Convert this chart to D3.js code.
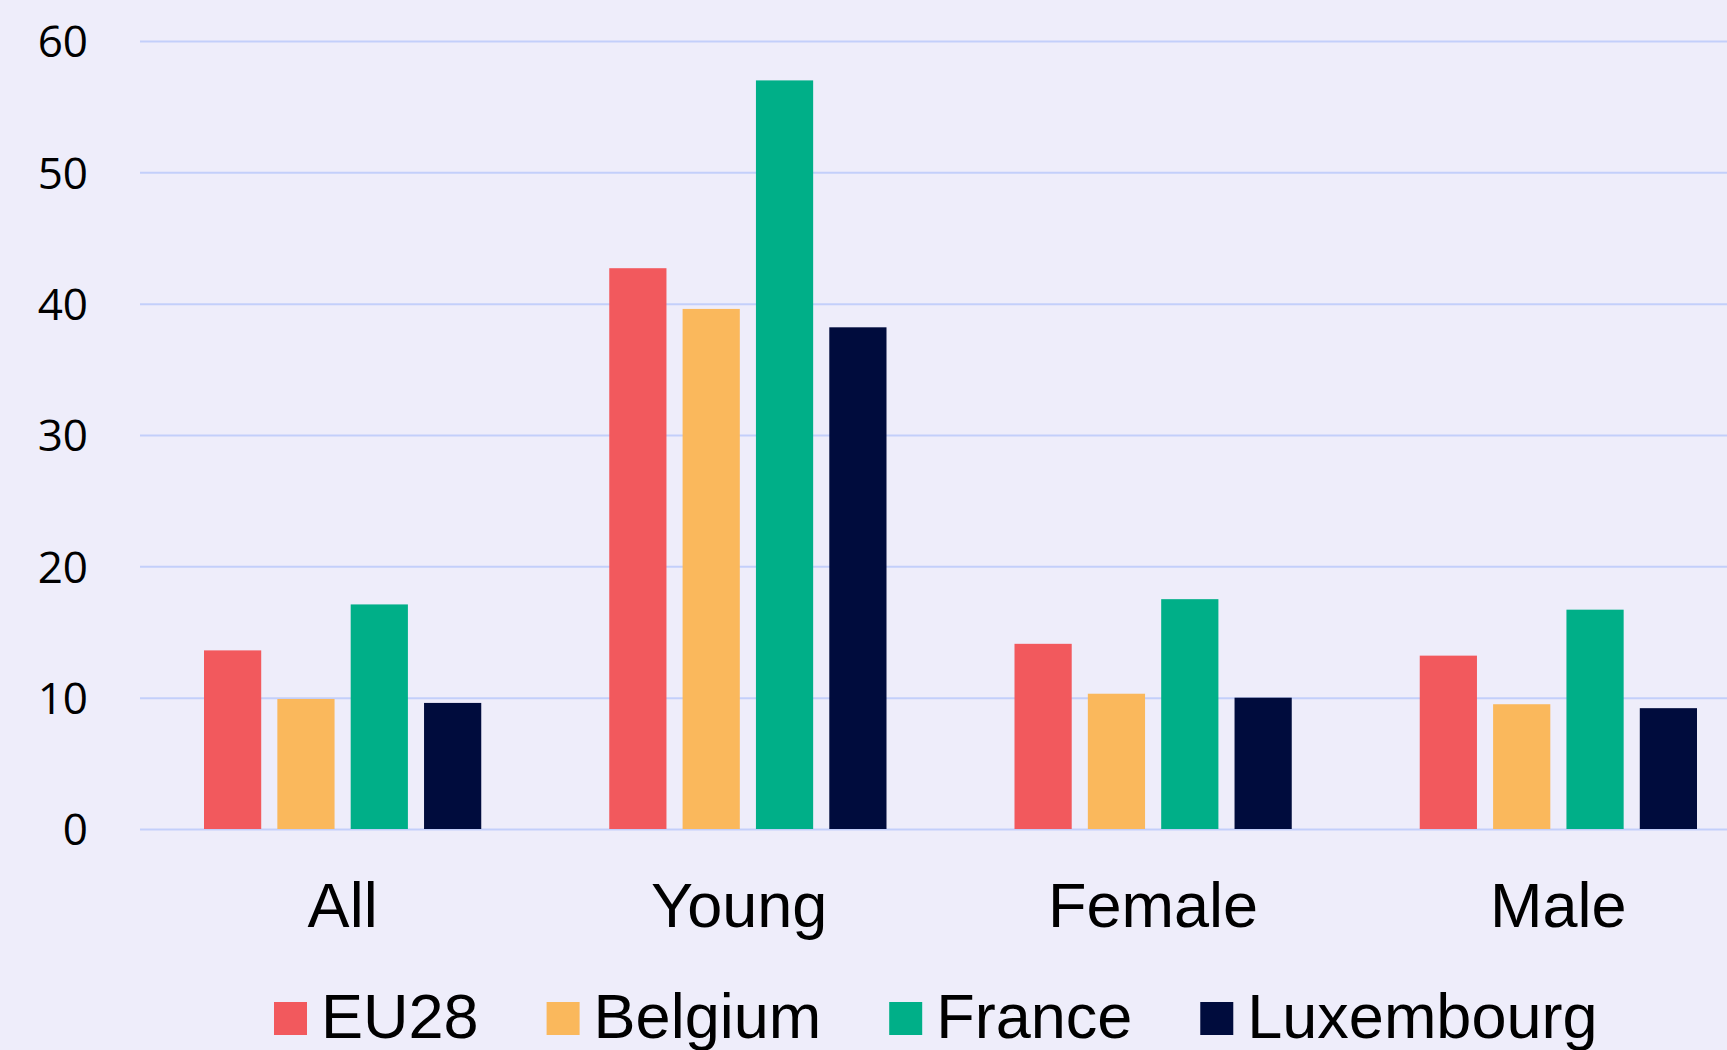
<!DOCTYPE html>
<html>
<head>
<meta charset="utf-8">
<script src="https://cdn.jsdelivr.net/npm/d3@7"></script>
<style>
  html, body { margin: 0; padding: 0; background: #EEEDFA; overflow: hidden; }
  svg { display: block; }
</style>
</head>
<body>
<svg id="chart" width="1727" height="1050"></svg>
<script>
const categories = ["All", "Young ", "Female", "Male"];
const seriesNames = ["EU28", "Belgium", "France", "Luxembourg"];
const eu28 = [13.6, 42.7, 14.1, 13.2];
const belgium = [9.9, 39.6, 10.3, 9.5];
const france = [17.1, 57.0, 17.5, 16.7];
const luxembourg = [9.6, 38.2, 10.0, 9.2];
const yTicks = [0, 10, 20, 30, 40, 50, 60];
const colors = ["#F2595D", "#FAB85C", "#00AF88", "#000C3D"];

const seriesValues = [eu28, belgium, france, luxembourg];

const W = 1727, H = 1050;
const plotLeft = 140, plotRight = 1761, gridRight = 1727;
const yBottom = 829, yTop = 41;

const svg = d3.select("#chart");
svg.append("rect").attr("width", W).attr("height", H).attr("fill", "#EEEDFA");

const x0 = d3.scaleBand().domain(categories).range([plotLeft, plotRight]).padding(0);
const groupInset = 64;
const x1 = d3.scaleBand().domain(seriesNames)
  .range([groupInset, x0.bandwidth() - groupInset])
  .paddingInner(0.22).paddingOuter(0);
const y = d3.scaleLinear().domain([0, 60]).range([yBottom, yTop]);

// gridlines + y labels via axis
const yAxis = d3.axisLeft(y).tickValues(yTicks).tickSize(-(gridRight - plotLeft)).tickPadding(52).tickFormat(d3.format("d"));
const gy = svg.append("g").attr("transform", `translate(${plotLeft},0)`).call(yAxis);
gy.select(".domain").remove();
gy.selectAll(".tick line").attr("stroke", "#C3CFFA").attr("stroke-width", 2);
gy.selectAll(".tick text")
  .attr("fill", "#000")
  .attr("font-family", "'Open Sans', 'Noto Sans', sans-serif")
  .attr("font-size", 44)
  .attr("dy", "0.36em");

// bars
const groups = svg.append("g").selectAll("g")
  .data(categories)
  .join("g")
  .attr("transform", d => `translate(${x0(d)},0)`);

groups.selectAll("rect")
  .data((c, ci) => seriesNames.map((s, si) => ({ s, si, v: seriesValues[si][ci] })))
  .join("rect")
  .attr("x", d => x1(d.s))
  .attr("width", x1.bandwidth())
  .attr("y", d => y(d.v))
  .attr("height", d => y(0) - y(d.v))
  .attr("fill", d => colors[d.si]);

// category labels
svg.append("g").selectAll("text")
  .data(categories)
  .join("text")
  .attr("x", d => x0(d) + x0.bandwidth() / 2)
  .attr("y", 927)
  .attr("text-anchor", "middle")
  .attr("font-family", "'Liberation Sans', Arial, sans-serif")
  .attr("font-size", 63)
  .attr("fill", "#000")
  .style("white-space", "pre")
  .text(d => d);

// legend
const legend = svg.append("g");
const sq = 33, gapText = 14, gapItem = 68;
let cx = 0;
seriesNames.forEach((s, i) => {
  const g = legend.append("g");
  g.append("rect").attr("x", 0).attr("y", 1002).attr("width", sq).attr("height", sq).attr("fill", colors[i]);
  const t = g.append("text")
    .attr("x", sq + gapText)
    .attr("y", 1038)
    .attr("font-family", "'Liberation Sans', Arial, sans-serif")
    .attr("font-size", 63)
    .attr("fill", "#000")
    .text(s);
  const w = t.node().getComputedTextLength();
  g.attr("transform", `translate(${cx},0)`);
  cx += sq + gapText + w + gapItem;
});
const legendStart = 274;
legend.attr("transform", `translate(${legendStart},0)`);
</script>
</body>
</html>
